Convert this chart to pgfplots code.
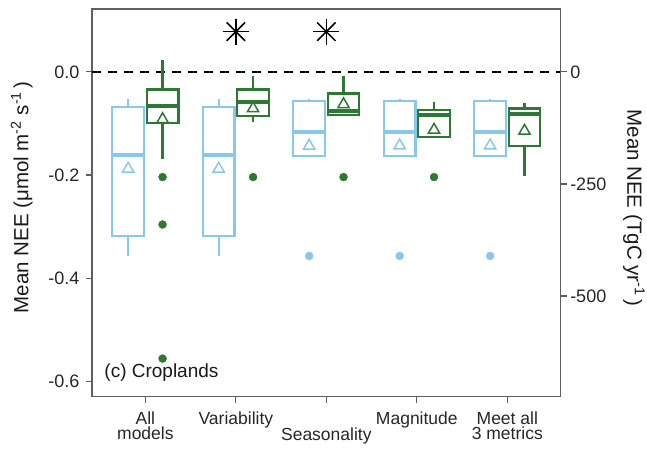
\documentclass[border=0pt]{standalone}
\usepackage{pgfplots}
\pgfplotsset{compat=1.18}
\usepackage{fontspec}
\setmainfont{Liberation Sans}
\definecolor{lblue}{RGB}{135,200,235}
\definecolor{dgreen}{RGB}{45,120,50}
\definecolor{axgray}{RGB}{95,95,95}
\begin{document}
\begin{tikzpicture}
\pgfplotsset{
  base/.style={
    scale only axis, width=468.7pt, height=387.7pt,
    xmin=0.41, xmax=5.59,
    axis line style={axgray, line width=1.2pt},
    tick align=outside, major tick length=6pt,
    tick style={axgray, line width=1.2pt},
    yticklabel style={font=\fontsize{18}{15}\selectfont, text=black!85},
    xticklabel style={font=\fontsize{17.5}{15}\selectfont, text=black!85},
    label style={font=\fontsize{20.5}{22}\selectfont, text=black!90},
    clip=false,
  },
  boxline/.style={line width=2.2pt, line cap=rect, line join=miter, unbounded coords=jump},
  medline/.style={line width=4pt, unbounded coords=jump},
}
\begin{axis}[base,
  ymin=-0.63, ymax=0.122,
  xtick={1,2,3,4,5},
  xticklabels={All\\models, Variability, \rule{0pt}{13pt}\\Seasonality, Magnitude, Meet all\\3 metrics},
  xticklabel style={align=center, yshift=-6pt},
  yticklabel style={xshift=-3pt},
  ytick={0,-0.2,-0.4,-0.6},
  yticklabels={0.0,-0.2,-0.4,-0.6},
  xtick pos=bottom, ytick pos=left,
  ylabel={Mean NEE (μmol m\textsuperscript{-2} s\textsuperscript{-1}\,)},
  ylabel style={at={(axis description cs:-0.150,0.514)}, anchor=center},
]
\coordinate (SW) at (rel axis cs:0,0);
% zero line
\addplot[black, line width=2.2pt, dash pattern=on 9pt off 7pt] coordinates {(0.41,0) (5.59,0)};
% ---- all models (blue): boxes, whiskers, medians
\addplot[lblue, boxline] coordinates {
  (0.635,-0.319) (0.985,-0.319) (0.985,-0.068) (0.635,-0.068) (0.635,-0.319) (0.8,nan)
  (1.635,-0.319) (1.985,-0.319) (1.985,-0.068) (1.635,-0.068) (1.635,-0.319) (1.8,nan)
  (2.635,-0.163) (2.985,-0.163) (2.985,-0.056) (2.635,-0.056) (2.635,-0.163) (2.8,nan)
  (3.635,-0.163) (3.985,-0.163) (3.985,-0.056) (3.635,-0.056) (3.635,-0.163) (3.8,nan)
  (4.635,-0.163) (4.985,-0.163) (4.985,-0.056) (4.635,-0.056) (4.635,-0.163)};
\addplot[lblue, line width=2.2pt, unbounded coords=jump] coordinates {
  (0.81,-0.068) (0.81,-0.052) (0.81,nan) (0.81,-0.319) (0.81,-0.357) (0.81,nan)
  (1.81,-0.068) (1.81,-0.052) (1.81,nan) (1.81,-0.319) (1.81,-0.357) (1.81,nan)
  (2.81,-0.056) (2.81,-0.052) (2.81,nan)
  (3.81,-0.056) (3.81,-0.052) (3.81,nan)
  (4.81,-0.056) (4.81,-0.052)};
\addplot[lblue, medline] coordinates {
  (0.635,-0.162) (0.985,-0.162) (1,nan)
  (1.635,-0.162) (1.985,-0.162) (2,nan)
  (2.635,-0.117) (2.985,-0.117) (3,nan)
  (3.635,-0.117) (3.985,-0.117) (4,nan)
  (4.635,-0.117) (4.985,-0.117)};
% ---- selected models (green)
\addplot[dgreen, boxline] coordinates {
  (1.015,-0.099) (1.365,-0.099) (1.365,-0.034) (1.015,-0.034) (1.015,-0.099) (1.2,nan)
  (2.015,-0.085) (2.365,-0.085) (2.365,-0.034) (2.015,-0.034) (2.015,-0.085) (2.2,nan)
  (3.015,-0.084) (3.365,-0.084) (3.365,-0.042) (3.015,-0.042) (3.015,-0.084) (3.2,nan)
  (4.015,-0.126) (4.365,-0.126) (4.365,-0.0745) (4.015,-0.0745) (4.015,-0.126) (4.2,nan)
  (5.015,-0.144) (5.365,-0.144) (5.365,-0.071) (5.015,-0.071) (5.015,-0.144)};
\addplot[dgreen, line width=2.2pt, unbounded coords=jump] coordinates {
  (1.19,-0.034) (1.19,0.023) (1.19,nan) (1.19,-0.099) (1.19,-0.169) (1.19,nan)
  (2.19,-0.034) (2.19,-0.008) (2.19,nan) (2.19,-0.085) (2.19,-0.097) (2.19,nan)
  (3.19,-0.042) (3.19,-0.008) (3.19,nan)
  (4.19,-0.0745) (4.19,-0.059) (4.19,nan)
  (5.19,-0.071) (5.19,-0.061) (5.19,nan) (5.19,-0.144) (5.19,-0.202)};
\addplot[dgreen, medline] coordinates {
  (1.015,-0.067) (1.365,-0.067) (1.4,nan)
  (2.015,-0.058) (2.365,-0.058) (2.4,nan)
  (3.015,-0.075) (3.365,-0.075) (3.4,nan)
  (4.015,-0.083) (4.365,-0.083) (4.4,nan)
  (5.015,-0.081) (5.365,-0.081)};
% means
\addplot[only marks, mark=triangle, mark size=6.5pt, lblue, mark options={line width=1.5pt, solid}] coordinates {(0.81,-0.188) (1.81,-0.188) (2.81,-0.1435) (3.81,-0.143) (4.81,-0.143)};
\addplot[only marks, mark=triangle, mark size=6.5pt, dgreen, mark options={line width=1.5pt, solid}] coordinates {(1.19,-0.092) (2.19,-0.071) (3.19,-0.063) (4.19,-0.1125) (5.19,-0.1145)};
% outliers
\addplot[only marks, mark=*, mark size=4pt, lblue] coordinates {(2.81,-0.357) (3.81,-0.357) (4.81,-0.357)};
\addplot[only marks, mark=*, mark size=4pt, dgreen] coordinates {(1.19,-0.204) (1.19,-0.296) (1.19,-0.556) (2.19,-0.204) (3.19,-0.204) (4.19,-0.204)};
% significance
\addplot[only marks, mark=+, mark size=13pt, black, mark options={line width=1.5pt}] coordinates {(2,0.078) (3,0.078)};
\addplot[only marks, mark=x, mark size=13pt, black, mark options={line width=1.5pt}] coordinates {(2,0.078) (3,0.078)};
\node[anchor=west, font=\fontsize{19}{20}\selectfont, text=black!90] at (rel axis cs:0.019,0.061) {(c) Croplands};
\end{axis}
\begin{axis}[base,
  ymin=-725, ymax=140.4,
  axis x line=none, axis y line*=right,
  ytick={0,-250,-500},
  yticklabels={0,-250,-500},
  ylabel={Mean NEE (TgC yr\textsuperscript{-1}\,)},
  ylabel style={at={(axis description cs:1.156,0.487)}, anchor=center, rotate=180},
]
\end{axis}
\pgfresetboundingbox
\path ([shift={(-92pt,-53.3pt)}]SW) rectangle ++(647pt,450pt);
\end{tikzpicture}
\end{document}
